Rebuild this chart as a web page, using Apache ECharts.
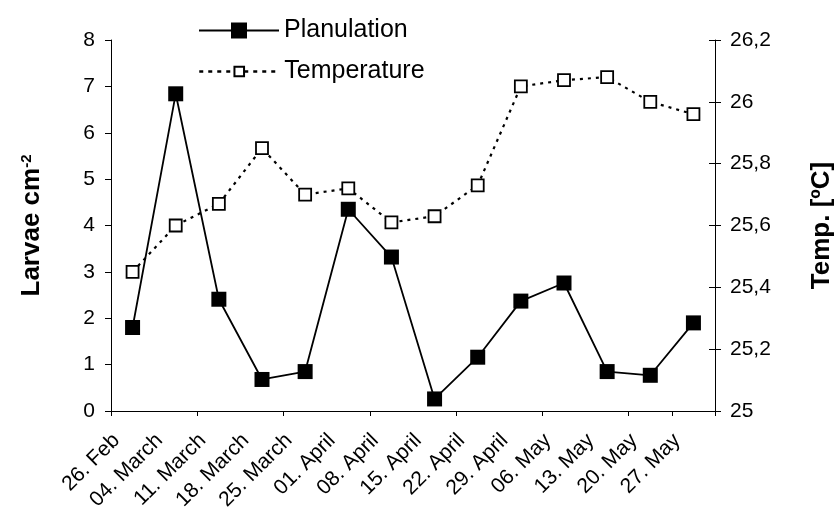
<!DOCTYPE html>
<html>
<head>
<meta charset="utf-8">
<script src="https://cdn.jsdelivr.net/npm/echarts@6/dist/echarts.min.js"></script>
<style>
html,body{margin:0;padding:0;background:#fff;}
#chart{width:840px;height:513px;}
</style>
</head>
<body>
<div id="chart"></div>
<script>
const categories = ['26. Feb', '04. March', '11. March', '18. March', '25. March', '01. April', '08. April', '15. April', '22. April', '29. April', '06. May', '13. May', '20. May', '27. May'];
const planulation = [1.80, 6.84, 2.41, 0.68, 0.85, 4.35, 3.32, 0.26, 1.16, 2.37, 2.76, 0.85, 0.77, 1.90];
const temperature = [25.45, 25.60, 25.67, 25.85, 25.70, 25.72, 25.61, 25.63, 25.73, 26.05, 26.07, 26.08, 26.00, 25.96];
const leftTicks = { min: 0, max: 8, interval: 1 };
const rightTicks = { min: 25, max: 26.2, interval: 0.2 };

const FONT = 'Liberation Sans, Arial, sans-serif';
const chart = echarts.init(document.getElementById('chart'), null, { renderer: 'canvas' });
const fmtRight = v => String(Number(v.toFixed(1))).replace('.', ',');

chart.setOption({
  animation: false,
  backgroundColor: '#fff',
  textStyle: { fontFamily: FONT, color: '#000' },
  grid: { left: 111, right: 125, top: 40, bottom: 102, containLabel: false, outerBoundsMode: 'none' },
  legend: [
    {
      data: ['Planulation'], left: 198, top: 18, orient: 'vertical',
      itemWidth: 80, itemHeight: 20, padding: 0,
      textStyle: { fontFamily: FONT, fontSize: 25, color: '#000' }
    },
    {
      data: ['Temperature'], left: 198, top: 59, orient: 'vertical',
      itemWidth: 80, itemHeight: 12, padding: 0,
      lineStyle: { width: 2.5, type: [4, 5] },
      textStyle: { fontFamily: FONT, fontSize: 25, color: '#000' }
    }
  ],
  xAxis: {
    type: 'category', data: categories, boundaryGap: true,
    axisLine: { lineStyle: { color: '#000', width: 1 } },
    axisTick: { show: true, interval: 1, length: 5, lineStyle: { color: '#000' } },
    axisLabel: {
      interval: 0, rotate: 45, margin: 10, padding: [0, 23, 0, 0],
      fontFamily: FONT, fontSize: 21, color: '#000'
    },
    splitLine: { show: false }
  },
  yAxis: [
    {
      type: 'value', position: 'left', min: leftTicks.min, max: leftTicks.max, interval: leftTicks.interval,
      name: '{a|Larvae cm}{s|-2}', nameLocation: 'middle', nameGap: 66, nameRotate: 90,
      nameTextStyle: {
        rich: {
          a: { fontFamily: FONT, fontSize: 26, fontWeight: 'bold', color: '#000' },
          s: { fontFamily: FONT, fontSize: 15, fontWeight: 'bold', color: '#000', verticalAlign: 'top' }
        }
      },
      axisLine: { show: true, lineStyle: { color: '#000', width: 1 } },
      axisTick: { show: true, length: 6, lineStyle: { color: '#000' } },
      axisLabel: { margin: 16, fontFamily: FONT, fontSize: 21, color: '#000' },
      splitLine: { show: false }
    },
    {
      type: 'value', position: 'right', min: rightTicks.min, max: rightTicks.max, interval: rightTicks.interval,
      name: 'Temp. [ºC]', nameLocation: 'middle', nameGap: 94, nameRotate: 90,
      nameTextStyle: { fontFamily: FONT, fontSize: 26, fontWeight: 'bold', color: '#000' },
      axisLine: { show: true, lineStyle: { color: '#000', width: 1 } },
      axisTick: { show: true, length: 6, lineStyle: { color: '#000' } },
      axisLabel: { margin: 15, fontFamily: FONT, fontSize: 21, color: '#000', formatter: fmtRight },
      splitLine: { show: false }
    },
    {
      type: 'value', position: 'right', min: rightTicks.min, max: rightTicks.max, interval: rightTicks.interval,
      axisLine: { show: false },
      axisTick: { show: true, inside: true, length: 6, lineStyle: { color: '#000' } },
      axisLabel: { show: false },
      splitLine: { show: false }
    }
  ],
  series: [
    {
      name: 'Temperature', type: 'line', yAxisIndex: 1, data: temperature,
      symbol: 'rect', symbolSize: 12, z: 2,
      lineStyle: { color: '#000', width: 2.2, type: [3, 5] },
      itemStyle: { color: '#fff', borderColor: '#000', borderWidth: 1.8 }
    },
    {
      name: 'Planulation', type: 'line', yAxisIndex: 0, data: planulation,
      symbol: 'rect', symbolSize: 15, z: 3,
      lineStyle: { color: '#000', width: 1.8, type: 'solid' },
      itemStyle: { color: '#000', borderColor: '#000', borderWidth: 0 }
    }
  ]
});
</script>
</body>
</html>
